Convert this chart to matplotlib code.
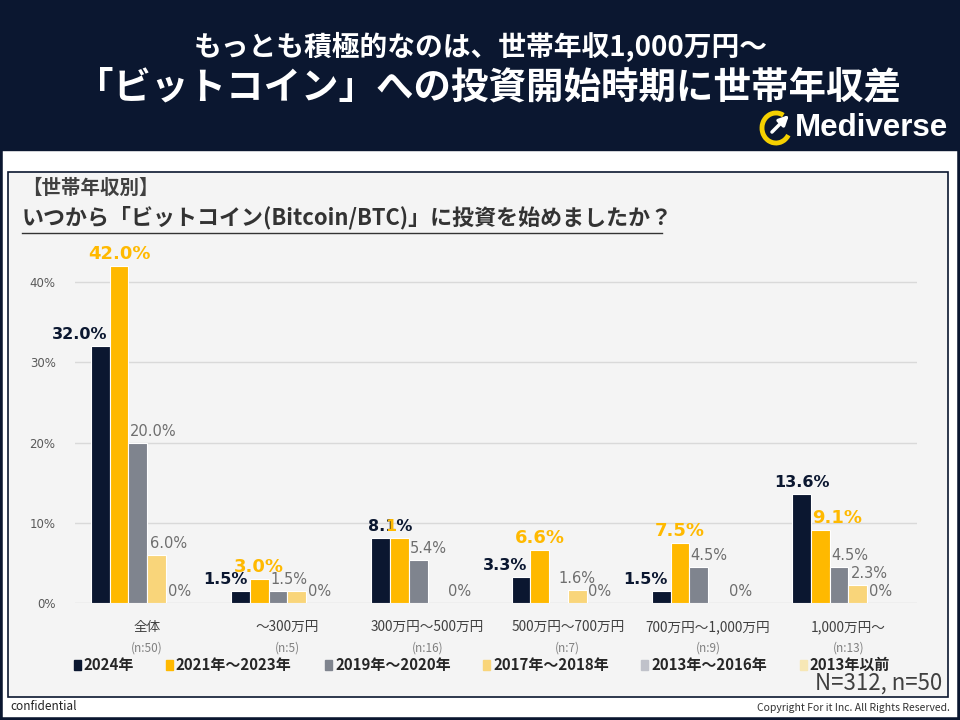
import matplotlib
matplotlib.use("Agg")
import matplotlib.pyplot as plt
from matplotlib.patches import Rectangle, Arc
from matplotlib.transforms import blended_transform_factory
import numpy as np

JP = ['Noto Sans CJK JP', 'DejaVu Sans']

# data
categories = ["全体", "～300万円", "300万円～500万円", "500万円～700万円", "700万円～1,000万円", "1,000万円～"]
sample_sizes = ["(n:50)", "(n:5)", "(n:16)", "(n:7)", "(n:9)", "(n:13)"]
series_names = ["2024年", "2021年～2023年", "2019年～2020年", "2017年～2018年", "2013年～2016年", "2013年以前"]
v2024 = [32.0, 1.5, 8.1, 3.3, 1.5, 13.6]
v2021 = [42.0, 3.0, 8.1, 6.6, 7.5, 9.1]
v2019 = [20.0, 1.5, 5.4, 0.0, 4.5, 4.5]
v2017 = [6.0, 1.5, 0.0, 1.6, 0.0, 2.3]
v2013 = [0.0, 0.0, 0.0, 0.0, 0.0, 0.0]
v_before = [0.0, 0.0, 0.0, 0.0, 0.0, 0.0]

NAVY = "#0B1730"
GOLD = "#FFB900"
GREY_TXT = "#6E6E6E"
colors = [NAVY, GOLD, "#7F848E", "#F9D57A", "#C0C2CA", "#F7E7B5"]
series = [v2024, v2021, v2019, v2017, v2013, v_before]

fig = plt.figure(figsize=(9.6, 7.2), dpi=100)

# background layer in pixel coordinates
bg = fig.add_axes([0, 0, 1, 1])
bg.set_xlim(0, 960)
bg.set_ylim(720, 0)
bg.axis('off')
bg.add_patch(Rectangle((0, 0), 960, 150, color=NAVY))
bg.add_patch(Rectangle((8, 172), 940, 525, facecolor='#F4F4F4', edgecolor=NAVY, lw=1.2))
bg.add_patch(Rectangle((0, 0), 960, 720, fill=False, edgecolor=NAVY, lw=4))

bg.text(481, 47, "もっとも積極的なのは、世帯年収1,000万円～", color='white', fontsize=20,
        fontweight='bold', ha='center', va='center', family=JP)
bg.text(488, 87, "「ビットコイン」への投資開始時期に世帯年収差", color='white', fontsize=27,
        fontweight='bold', ha='center', va='center', family=JP)

# logo
bg.add_patch(Arc((776, 128), 28, 30, theta1=30, theta2=300, color='#F5D000', lw=3.5))
bg.annotate('', xy=(791, 113), xytext=(770, 134),
            arrowprops=dict(arrowstyle='-|>', color='white', lw=2.5, mutation_scale=14))
bg.text(795, 128, "Mediverse", color='white', fontsize=22.5, fontweight='bold',
        ha='left', va='center', family='Liberation Sans')

# question block
bg.text(22, 188, "【世帯年収別】", color='#404040', fontsize=14, fontweight='bold',
        ha='left', va='center', family=JP)
bg.text(22, 218, "いつから「ビットコイン(Bitcoin/BTC)」に投資を始めましたか？", color='#333333',
        fontsize=15.8, fontweight='bold', ha='left', va='center', family=JP)
bg.plot([22, 662], [233, 233], color='#333333', lw=1)

# footer
bg.text(10, 707, "confidential", color='#222222', fontsize=8.5, ha='left', va='center', family=JP)
bg.text(950, 708, "Copyright For it Inc. All Rights Reserved.", color='#333333', fontsize=7.5,
        ha='right', va='center', family=JP)
bg.text(942, 683, "N=312, n=50", color='#404040', fontsize=16, ha='right', va='center', family=JP)

# legend
legend_x = [74, 166, 325, 483, 641, 800]
for name, col, lx in zip(series_names, colors, legend_x):
    bg.add_patch(Rectangle((lx, 660), 7, 10, color=col))
    bg.text(lx + 10, 665, name, color='#262626', fontsize=10.8, fontweight='bold',
            ha='left', va='center', family=JP)

# chart
ax = fig.add_axes([75 / 960, (720 - 603) / 720, (917 - 75) / 960, (603 - 242) / 720])
ax.set_facecolor('none')
x = np.arange(len(categories))
w = 0.8 / 6
for j, vals in enumerate(series):
    ax.bar(x + (j - 2.5) * w, vals, w, color=colors[j], edgecolor='white', lw=0.8, zorder=3)

ax.set_xlim(-0.514, 5.49)
ax.set_ylim(0, 45)
ax.set_yticks([0, 10, 20, 30, 40])
ax.set_yticklabels([f"{t}%" for t in [0, 10, 20, 30, 40]])
ax.yaxis.grid(True, color='#D9D9D9', lw=1)
ax.set_axisbelow(True)
ax.set_xticks([])
for s in ax.spines.values():
    s.set_visible(False)
ax.tick_params(axis='y', length=0, labelsize=8.5, labelcolor='#595959', pad=14)


def fmt(v):
    return "0%" if v == 0 else f"{v:.1f}%"


def put(xp, v, s, color, size, weight, ha, dx=0):
    return ax.annotate(s, (xp, v), xytext=(dx, 5), textcoords='offset points', ha=ha,
                       va='baseline', color=color, fontsize=size, fontweight=weight,
                       family='DejaVu Sans', zorder=5)


for i in range(len(categories)):
    a, b, c, d = v2024[i], v2021[i], v2019[i], v2017[i]
    cx = [x[i] + (j - 2.5) * w for j in range(6)]
    # 2024
    if a > b:
        put(cx[0], a, fmt(a), NAVY, 11.5, 'bold', 'center')
    elif a < b:
        put(cx[0] + w / 2, a, fmt(a), NAVY, 11.5, 'bold', 'right', dx=-2)
    else:
        # equal values: one shared label, middle digit shows through in gold
        t = put(cx[0] + w / 2, a, fmt(a), NAVY, 11.5, 'bold', 'center')
        s = fmt(a)
        pre = ax.annotate(s[:2], (0, 0), xycoords=t, ha='left', va='bottom', color='none',
                          fontsize=11.5, fontweight='bold', family='DejaVu Sans')
        ax.annotate(s[2:3], (1, 0), xycoords=pre, ha='left', va='bottom', color=GOLD,
                    fontsize=11.5, fontweight='bold', family='DejaVu Sans', zorder=6)
    # 2021
    if a > b:
        put(cx[1] - w / 2, b, fmt(b), GOLD, 13, 'bold', 'left', dx=1)
    elif a < b:
        put(cx[1], b, fmt(b), GOLD, 13, 'bold', 'center')
    # 2019
    if c > 0:
        put(cx[2] - w / 2, c, fmt(c), GREY_TXT, 10.5, 'normal', 'left', dx=1)
    # 2017
    if d > 0 and d != c:
        if c > 0:
            put(cx[3] - w / 2, d, fmt(d), GREY_TXT, 10.5, 'normal', 'left', dx=2)
        else:
            put(cx[3], d, fmt(d), GREY_TXT, 10.5, 'normal', 'center')
    # 2013-2016
    put(cx[4], v2013[i], fmt(v2013[i]), GREY_TXT, 10.5, 'normal', 'center', dx=3)

trans = blended_transform_factory(ax.transData, bg.transData)
for i, (name, n) in enumerate(zip(categories, sample_sizes)):
    ax.text(x[i], 627, name, transform=trans, ha='center', va='center', fontsize=9.8,
            color='#404040', family=JP)
    ax.text(x[i], 648, n, transform=trans, ha='center', va='center', fontsize=8.5,
            color='#808080', family=JP)

fig.savefig("out.png", dpi=100)
